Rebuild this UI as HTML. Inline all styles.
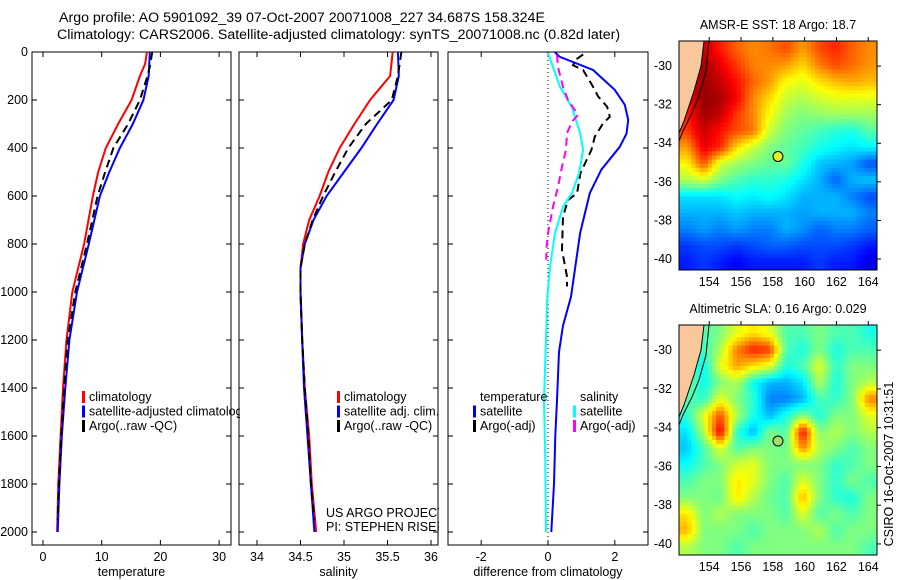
<!DOCTYPE html>
<html><head><meta charset="utf-8">
<style>
body{margin:0;background:#fff;width:900px;height:580px;overflow:hidden}
svg{display:block;font-family:"Liberation Sans",sans-serif}
text{font-size:12.5px;fill:#000}
</style></head>
<body>
<svg id="fig" width="900" height="580" viewBox="0 0 900 580">
<text x="59" y="22" style="font-size:14.2px">Argo profile: AO 5901092_39 07-Oct-2007 20071008_227 34.687S 158.324E</text>
<text x="57" y="39" style="font-size:14.2px">Climatology: CARS2006. Satellite-adjusted climatology: synTS_20071008.nc (0.82d later)</text>
<defs>
<clipPath id="c1"><rect x="0" y="40" width="240" height="520"/></clipPath>
<clipPath id="c2"><rect x="239" y="40" width="200" height="520"/></clipPath>
<clipPath id="c3"><rect x="448" y="52" width="200" height="493"/></clipPath>
</defs>
</svg>
<script>
// ---- Profile data ----
const tRedD=[0,50,100,200,300,400,500,600,800,1000,1200,1400,1600,1800,2000];
const tRedV=[17.7,17.4,16.5,15.1,12.8,10.7,9.4,8.5,7.0,5.0,4.0,3.4,3.0,2.6,2.4];
const tBlueD=[0,100,200,300,400,500,600,800,1000,1200,1400,1600,1800,2000];
const tBlueV=[18.2,18.0,17.1,15.3,13.1,11.3,9.7,7.8,5.8,4.5,3.8,3.2,2.8,2.5];
const tArgoD=[0,50,100,200,300,400,500,600,800,1000,1200,1400,1600,1800,1950];
const tArgoV=[18.6,18.3,17.8,16.5,14.5,12.0,10.6,9.3,7.5,5.5,4.2,3.6,3.1,2.7,2.5];
const sRedD=[0,100,200,300,400,500,600,700,800,900,1000,1200,1400,1600,1800,2000];
const sRedV=[35.56,35.53,35.3,35.12,34.95,34.82,34.72,34.6,34.53,34.5,34.5,34.52,34.55,34.6,34.63,34.68];
const sBlueD=[0,100,200,300,400,500,600,700,800,900,1000,1200,1400,1600,1800,2000];
const sBlueV=[35.62,35.63,35.57,35.38,35.2,35.0,34.8,34.65,34.55,34.5,34.5,34.52,34.54,34.58,34.62,34.66];
const sArgoD=[0,100,200,300,400,500,600,700,800,900,1000,1200,1400,1600,1800,1950];
const sArgoV=[35.66,35.62,35.55,35.25,35.05,34.9,34.76,34.64,34.55,34.5,34.5,34.52,34.55,34.59,34.62,34.66];
const dTempSatD=[0,20,75,158,220,283,340,395,490,588,755,1020,1140,1250,1450,1600,1800,2000];
const dTempSatV=[0.2,0.35,1.35,2.0,2.3,2.4,2.35,2.15,1.6,1.25,0.96,0.69,0.45,0.33,0.27,0.22,0.18,0.1];
const dTempArgoD=[10,30,55,75,145,185,228,270,297,353,408,505,588,617,686,825,936,977];
const dTempArgoV=[1.05,0.85,0.75,1.05,1.35,1.5,1.77,1.85,1.65,1.4,1.3,0.97,0.87,0.6,0.45,0.42,0.57,0.57];
const dSalSatD=[5,63,145,228,338,408,505,588,645,755,895,1020,1200,1450,1700,2000];
const dSalSatV=[0,0.15,0.36,0.71,0.96,1.05,0.93,0.72,0.45,0.21,0.06,-0.02,-0.06,-0.12,-0.08,-0.06];
const dSalArgoD=[12,63,145,200,262,290,338,408,478,562,645,755,825,866];
const dSalArgoV=[0.27,0.3,0.45,0.6,0.9,0.72,0.57,0.54,0.42,0.3,0.15,0,-0.05,-0.05];
const depthTicks=[0,200,400,600,800,1000,1200,1400,1600,1800,2000];
const tempTicks=[0,10,20,30];
const salTicks=[34,34.5,35,35.5,36];
const diffTicks=[-2,0,2];
// ---- Map data (jet colormap fraction, rows top->bottom, cols west->east) ----
const sstGrid=[
[.85,.93,.85,.78,.74,.76,.8,.72,.8,.84,.78,.74],
[.9,.97,.9,.82,.75,.74,.72,.66,.75,.8,.77,.73],
[.9,.97,.93,.86,.78,.72,.62,.6,.65,.69,.71,.69],
[.88,.98,.96,.88,.74,.66,.57,.55,.58,.6,.6,.6],
[.85,.97,.93,.82,.74,.62,.53,.5,.52,.53,.53,.53],
[.82,.93,.86,.8,.76,.57,.5,.47,.44,.41,.4,.46],
[.72,.9,.84,.66,.57,.5,.47,.44,.4,.37,.35,.37],
[.63,.8,.58,.53,.5,.47,.48,.4,.32,.3,.28,.2],
[.55,.58,.5,.45,.42,.42,.4,.35,.3,.22,.3,.32],
[.35,.35,.35,.38,.36,.38,.35,.3,.3,.3,.25,.2],
[.3,.3,.3,.32,.3,.3,.3,.28,.3,.3,.3,.25],
[.25,.28,.25,.28,.25,.25,.3,.27,.22,.25,.25,.22],
[.18,.2,.2,.18,.2,.22,.22,.2,.2,.2,.18,.15],
[.15,.18,.15,.12,.15,.15,.15,.15,.18,.15,.15,.1]];
const slaGrid=[
[.5,.45,.5,.6,.65,.6,.45,.45,.5,.45,.45,.4],
[.5,.42,.55,.75,.85,.82,.45,.4,.5,.4,.45,.45],
[.45,.38,.6,.72,.65,.6,.4,.45,.6,.42,.5,.5],
[.5,.38,.5,.55,.38,.3,.3,.35,.55,.4,.5,.55],
[.45,.42,.6,.5,.42,.25,.25,.3,.45,.42,.5,.75],
[.42,.6,.8,.55,.4,.3,.4,.5,.4,.5,.5,.6],
[.35,.55,.9,.42,.3,.5,.45,.88,.5,.55,.5,.55],
[.32,.45,.6,.45,.5,.5,.48,.75,.55,.5,.45,.5],
[.38,.45,.5,.58,.6,.5,.5,.5,.5,.42,.45,.5],
[.45,.5,.5,.65,.6,.5,.45,.6,.5,.42,.5,.45],
[.5,.5,.48,.65,.55,.48,.45,.7,.5,.42,.4,.5],
[.65,.5,.55,.5,.5,.5,.45,.6,.45,.5,.45,.5],
[.7,.5,.5,.5,.45,.5,.5,.5,.55,.45,.5,.5],
[.55,.5,.5,.45,.5,.5,.5,.5,.5,.5,.5,.45]];
const lonTicks=[154,156,158,160,162,164];
const latTicks=[-30,-32,-34,-36,-38,-40];
const argoLon=158.324, argoLat=-34.687;

const NS='http://www.w3.org/2000/svg';
const svg=document.getElementById('fig');
function mk(tag,attrs,parent){const e=document.createElementNS(NS,tag);for(const k in attrs)e.setAttribute(k,attrs[k]);(parent||svg).appendChild(e);return e;}
function txt(x,y,s,anchor,parent){const t=mk('text',{x:x,y:y,'text-anchor':anchor||'start'},parent);t.textContent=s;return t;}

const yTop=52,yBot=545;
const yD=d=>52+d*0.24;

function panel(x0,x1,xs,ticks,fmt,label,name,showY){
  const r=mk('rect',{x:x0,y:yTop,width:x1-x0,height:yBot-yTop,fill:'none',stroke:'#000','stroke-width':1});
  
  
  ticks.forEach(v=>{const x=xs(v);
    mk('line',{x1:x,x2:x,y1:yBot,y2:yBot-5,stroke:'#000'});
    mk('line',{x1:x,x2:x,y1:yTop,y2:yTop+5,stroke:'#000'});
    const t=txt(x,561,fmt(v),'middle');
    
    
  });
  depthTicks.forEach(d=>{const y=yD(d);
    mk('line',{x1:x0,x2:x0+5,y1:y,y2:y,stroke:'#000'});
    mk('line',{x1:x1,x2:x1-5,y1:y,y2:y,stroke:'#000'});
    if(showY){const t=txt(28,y+4,String(d),'end');
      
      }
  });
  const l=txt((x0+x1)/2,576,label,'middle');
  
  
}
function line(D,V,xs,color,dash,nm,clip){
  const pts=D.map((d,i)=>xs(V[i]).toFixed(1)+','+yD(d).toFixed(1)).join(' ');
  const a={points:pts,fill:'none',stroke:color,'stroke-width':2};
  if(dash)a['stroke-dasharray']=dash;
  if(clip)a['clip-path']='url(#'+clip+')';
  const p=mk('polyline',a);
  
  
}
const xT=v=>43+v*5.87, xS=v=>257+(v-34)*87, xDf=v=>548+v*33.4;
panel(32,231,xT,tempTicks,String,'temperature','temperature-panel',true);
panel(239,438,xS,salTicks,String,'salinity','salinity-panel',false);
panel(448,648,xDf,diffTicks,String,'difference from climatology','difference-panel',false);
mk('line',{x1:548,x2:548,y1:yTop,y2:yBot,stroke:'#000','stroke-dasharray':'1,3'});

line(tRedD,tRedV,xT,'#f00',null,'temp-climatology-line');
line(tBlueD,tBlueV,xT,'#00f',null,'temp-satellite-line');
line(tArgoD,tArgoV,xT,'#000','8,5','temp-argo-line');
line(sRedD,sRedV,xS,'#f00',null,'sal-climatology-line');
line(sBlueD,sBlueV,xS,'#00f',null,'sal-satellite-line');
line(sArgoD,sArgoV,xS,'#000','8,5','sal-argo-line');
line(dTempSatD,dTempSatV,xDf,'#00f',null,'diff-temp-satellite-line','c3');
line(dTempArgoD,dTempArgoV,xDf,'#000','8,5','diff-temp-argo-line','c3');
line(dSalSatD,dSalSatV,xDf,'#0ff',null,'diff-sal-satellite-line','c3');
line(dSalArgoD,dSalArgoV,xDf,'#f0f','8,5','diff-sal-argo-line','c3');

function legend(x,y,items,nm,clip){
  const g=mk('g',clip?{'clip-path':'url(#'+clip+')'}:{});
  
  
  items.forEach((it,i)=>{const yy=y+i*14.5;
    if(it[1])mk('rect',{x:x,y:yy-10,width:3,height:12,fill:it[1]},g);
    txt(x+7,yy,it[0],'start',g);});
}
legend(82,401,[['climatology','#f00'],['satellite-adjusted climatology','#00f'],['Argo(..raw -QC)','#000']],'temperature-legend','c1');
legend(337,401,[['climatology','#f00'],['satellite adj. clim.','#00f'],['Argo(..raw -QC)','#000']],'salinity-legend');
legend(473,401,[['temperature',null],['satellite','#00f'],['Argo(-adj)','#000']],'diff-temperature-legend');
legend(573,401,[['salinity',null],['satellite','#0ff'],['Argo(-adj)','#f0f']],'diff-salinity-legend');
let t=txt(326,517,'US ARGO PROJECT','start',mk('g',{'clip-path':'url(#c2)'}));


t=txt(326,531,'PI: STEPHEN RISER','start',mk('g',{'clip-path':'url(#c2)'}));



// ---- maps ----
function jet(v){v=Math.max(0,Math.min(1,v));
  const r=Math.max(0,Math.min(1,1.5-Math.abs(4*v-3)));
  const g=Math.max(0,Math.min(1,1.5-Math.abs(4*v-2)));
  const b=Math.max(0,Math.min(1,1.5-Math.abs(4*v-1)));
  return 'rgb('+Math.round(r*255)+','+Math.round(g*255)+','+Math.round(b*255)+')';}
function sample(grid,fx,fy){
  const rows=grid.length,cols=grid[0].length;
  fx=Math.max(0,Math.min(cols-1,fx));fy=Math.max(0,Math.min(rows-1,fy));
  const i=Math.min(cols-2,Math.floor(fx)),j=Math.min(rows-2,Math.floor(fy));
  const a=fx-i,b=fy-j;
  return grid[j][i]*(1-a)*(1-b)+grid[j][i+1]*a*(1-b)+grid[j+1][i]*(1-a)*b+grid[j+1][i+1]*a*b;}
function map(top,bot,grid,title,nm,markerFill){
  const x0=679,x1=877,lon0=152.1,lon1=164.55,lat0=-28.7,lat1=-40.57;
  const lx=lon=>x0+(lon-lon0)/(lon1-lon0)*(x1-x0);
  const ly=lat=>top+(lat-lat0)/(lat1-lat0)*(bot-top);
  const g=mk('g',{});
  
  
  const rows=grid.length,cols=grid[0].length,S=4;
  const nx=cols*S,ny=rows*S,cw=(x1-x0)/nx,ch=(bot-top)/ny;
  for(let j=0;j<ny;j++)for(let i=0;i<nx;i++){
    const v=sample(grid,(i+0.5)/S-0.5,(j+0.5)/S-0.5);
    const c=mk('rect',{x:(x0+i*cw).toFixed(2),y:(top+j*ch).toFixed(2),width:(cw+0.5).toFixed(2),height:(ch+0.5).toFixed(2),fill:jet(v)},g);
    
    
  }
  const land=mk('polygon',{points:[[x0,top],[704,top],[701,top+25],[694,top+50],[689,top+65],[684,top+80],[679,top+92]].map(p=>p.join(',')).join(' '),fill:'#f9c89a',stroke:'#000','stroke-width':1});
  
  
  mk('polyline',{points:[[709,top],[706,top+30],[699,top+55],[692,top+72],[683,top+90],[679,top+100]].map(p=>p.join(',')).join(' '),fill:'none',stroke:'#000','stroke-width':1});
  mk('rect',{x:x0,y:top,width:x1-x0,height:bot-top,fill:'none',stroke:'#000'});
  lonTicks.forEach(v=>{const x=lx(v);mk('line',{x1:x,x2:x,y1:top,y2:top-4,stroke:'#000'});
    const tt=txt(x,bot+16,String(v),'middle');
    
    });
  latTicks.forEach(v=>{const y=ly(v);mk('line',{x1:x1,x2:x1+4,y1:y,y2:y,stroke:'#000'});
    const tt=txt(672,y+4,String(v),'end');
    
    });
  const ti=txt(778,top-12,title,'middle');
  
  
  const m=mk('circle',{cx:lx(argoLon),cy:ly(argoLat),r:5,fill:markerFill,stroke:'#000'});
  
  
}
map(41,270,sstGrid,'AMSR-E SST: 18 Argo: 18.7','sst-map','#e0f020');
map(325,555,slaGrid,'Altimetric SLA: 0.16 Argo: 0.029','sla-map','#a0e070');
t=txt(0,0,'CSIRO 16-Oct-2007 10:31:51','middle');
t.setAttribute('transform','translate(893,464) rotate(-90)');


</script>
</body></html>
